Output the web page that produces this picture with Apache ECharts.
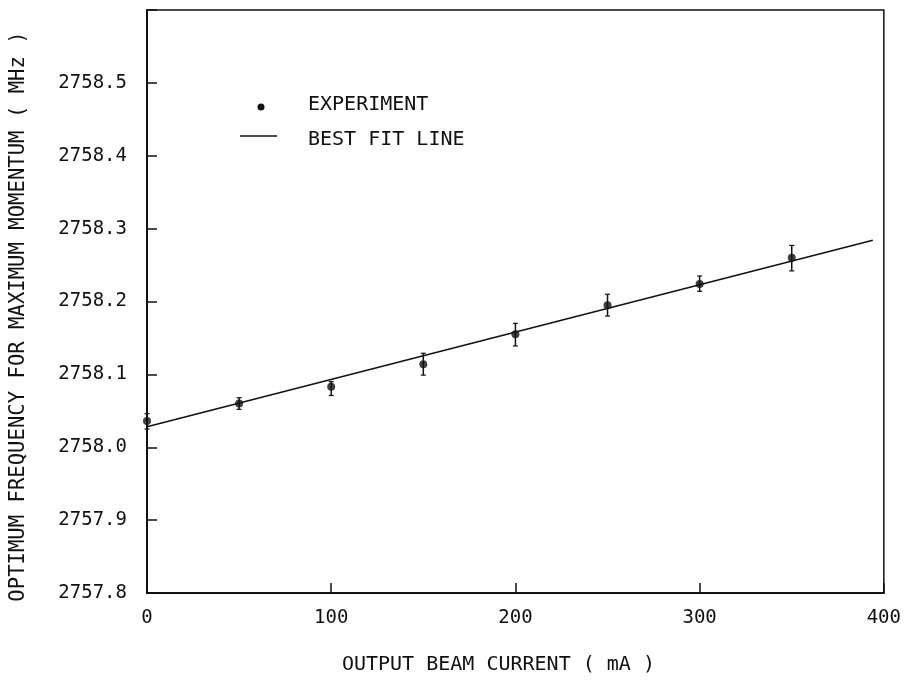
<!DOCTYPE html>
<html>
<head>
<meta charset="utf-8">
<script src="https://cdn.jsdelivr.net/npm/echarts@6/dist/echarts.min.js"></script>
<style>
  html, body { margin: 0; padding: 0; background: #fff; }
  #chart { width: 904px; height: 683px; }
</style>
</head>
<body>
<div id="chart"></div>
<script>
// measured points (beam current in mA, frequency in MHz)
var currents = [0, 50, 100, 150, 200, 250, 300, 350]
var freqs = [2758.036, 2758.060, 2758.083, 2758.114, 2758.155, 2758.195, 2758.224, 2758.260]
var errLow = [2758.025, 2758.052, 2758.071, 2758.099, 2758.139, 2758.180, 2758.214, 2758.242]
var errHigh = [2758.046, 2758.068, 2758.090, 2758.129, 2758.170, 2758.210, 2758.235, 2758.277]
// best fit line end points
var fitX = [0, 394]
var fitY = [2758.028, 2758.284]

var FONT = 'DejaVu Sans Mono'

var chart = echarts.init(document.getElementById('chart'))

chart.setOption({
  backgroundColor: '#fff',
  animation: false,
  grid: {
    left: 147,
    right: 20,
    top: 10,
    bottom: 90,
    show: true,
    borderColor: '#111',
    borderWidth: 1.5
  },
  xAxis: {
    type: 'value',
    min: 0,
    max: 400,
    interval: 100,
    name: 'OUTPUT BEAM CURRENT ( mA )',
    nameLocation: 'middle',
    nameGap: 62,
    nameTextStyle: { fontFamily: FONT, fontSize: 20, color: '#111', padding: [0, 34, 0, 0] },
    axisLine: { lineStyle: { color: '#111', width: 2 } },
    axisTick: { inside: true, length: 10, lineStyle: { color: '#111', width: 1.5 } },
    axisLabel: { margin: 16, fontFamily: FONT, fontSize: 19, color: '#111' },
    splitLine: { show: false }
  },
  yAxis: {
    type: 'value',
    min: 2757.8,
    max: 2758.6,
    interval: 0.1,
    name: 'OPTIMUM FREQUENCY FOR MAXIMUM MOMENTUM ( MHz )',
    nameLocation: 'middle',
    nameGap: 118,
    nameTextStyle: { fontFamily: FONT, fontSize: 20.6, color: '#111', padding: [0, 30, 0, 0] },
    axisLine: { lineStyle: { color: '#111', width: 2 } },
    axisTick: { inside: true, length: 10, lineStyle: { color: '#111', width: 1.5 } },
    axisLabel: {
      margin: 20,
      fontFamily: FONT,
      fontSize: 19,
      color: '#111',
      formatter: function (v) {
        if (v > 2758.55) return ''
        return v.toFixed(1)
      }
    },
    splitLine: { show: false }
  },
  graphic: [
    { type: 'circle', shape: { cx: 261, cy: 107, r: 3.5 }, style: { fill: '#111' } },
    { type: 'text', left: 308, top: 95, style: { text: 'EXPERIMENT', font: '20px "DejaVu Sans Mono"', fill: '#111' } },
    { type: 'line', shape: { x1: 240, y1: 136, x2: 277, y2: 136 }, style: { stroke: '#111', lineWidth: 1.5 } },
    { type: 'text', left: 308, top: 130, style: { text: 'BEST FIT LINE', font: '20px "DejaVu Sans Mono"', fill: '#111' } }
  ],
  series: [
    {
      name: 'BEST FIT LINE',
      type: 'line',
      data: fitX.map(function (x, i) { return [x, fitY[i]] }),
      symbol: 'none',
      lineStyle: { color: '#111', width: 1.5 },
      z: 2
    },
    {
      name: 'error',
      type: 'custom',
      data: currents.map(function (x, i) { return [x, errLow[i], errHigh[i]] }),
      renderItem: function (params, api) {
        var lo = api.coord([api.value(0), api.value(1)])
        var hi = api.coord([api.value(0), api.value(2)])
        var c = 2.5
        return {
          type: 'group',
          children: [
            { type: 'line', shape: { x1: lo[0], y1: lo[1], x2: hi[0], y2: hi[1] }, style: { stroke: '#111', lineWidth: 1.5 } },
            { type: 'line', shape: { x1: hi[0] - c, y1: hi[1], x2: hi[0] + c, y2: hi[1] }, style: { stroke: '#111', lineWidth: 1.2 } },
            { type: 'line', shape: { x1: lo[0] - c, y1: lo[1], x2: lo[0] + c, y2: lo[1] }, style: { stroke: '#111', lineWidth: 1.2 } }
          ]
        }
      },
      z: 3
    },
    {
      name: 'EXPERIMENT',
      type: 'scatter',
      data: currents.map(function (x, i) { return [x, freqs[i]] }),
      symbol: 'circle',
      symbolSize: 8,
      itemStyle: { color: '#111' },
      z: 4
    }
  ]
})
</script>
</body>
</html>
